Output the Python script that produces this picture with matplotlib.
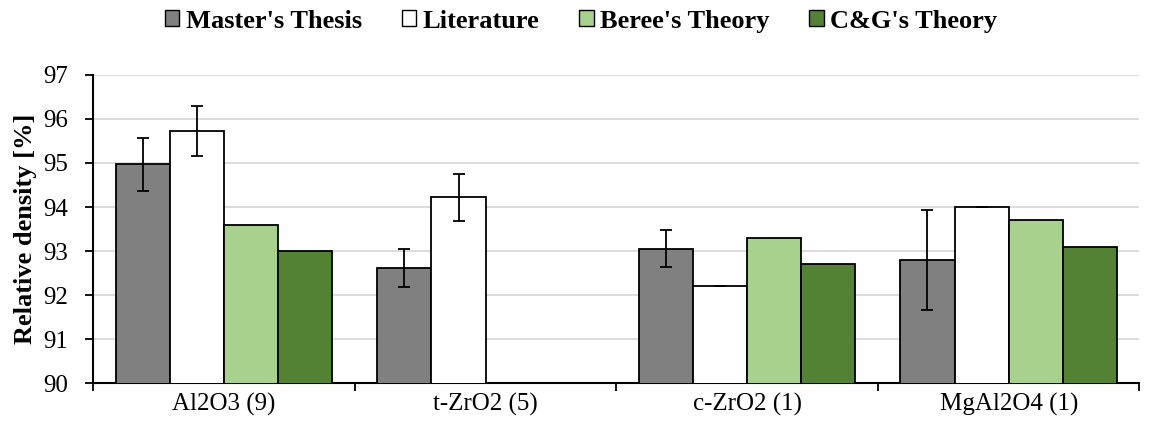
import numpy as np
import matplotlib
matplotlib.use('Agg')
import matplotlib.pyplot as plt

plt.rcParams['font.family'] = ['Liberation Serif', 'DejaVu Serif']

categories = ['Al2O3 (9)', 't-ZrO2 (5)', 'c-ZrO2 (1)', 'MgAl2O4 (1)']
series = ["Master's Thesis", 'Literature', "Beree's Theory", "C&G's Theory"]
master = [94.97, 92.62, 93.05, 92.80]
master_err = [0.60, 0.43, 0.42, 1.13]
literature = [95.72, 94.22, 92.20, 94.00]
literature_err = [0.57, 0.53, 0.0, 0.0]
beree = [93.6, np.nan, 93.3, 93.7]
cg = [93.0, np.nan, 92.7, 93.1]

colors = ['#808080', '#ffffff', '#a9d18e', '#548235']
values = [master, literature, beree, cg]
errs = [master_err, literature_err, None, None]

fig, ax = plt.subplots(figsize=(11.51, 4.21), dpi=100)
fig.subplots_adjust(left=0.081, right=0.99, top=0.822, bottom=0.09)

x = np.arange(len(categories))
w = 0.207
for i in range(4):
    pos = x + (i - 1.5) * w
    ax.bar(pos, values[i], w, bottom=0, color=colors[i], edgecolor='black',
           linewidth=1.3, label=series[i], zorder=3)
    if errs[i] is not None:
        ax.errorbar(pos, values[i], yerr=errs[i], fmt='none', ecolor='black',
                    elinewidth=1.3, capsize=4.5, capthick=1.3, zorder=4)

ax.set_ylim(90, 97)
ax.set_xlim(-0.5, 3.5)
ax.set_yticks(range(90, 98))
ax.yaxis.grid(True, color='#d9d9d9', linewidth=1.3, zorder=0)
ax.set_axisbelow(True)

# category boundaries get the tick marks, names sit in between
ax.set_xticks(np.arange(-0.5, 4, 1))
ax.set_xticklabels([])
ax.set_xticks(x, minor=True)
ax.set_xticklabels(categories, minor=True)
ax.tick_params(axis='x', which='minor', length=0, labelsize=18, pad=7)
ax.tick_params(axis='x', which='major', length=6, width=1.3, direction='out')
ax.tick_params(axis='y', length=6, width=1.3, labelsize=18, pad=12)

for s in ['top', 'right']:
    ax.spines[s].set_visible(False)
ax.spines['left'].set_linewidth(1.5)
ax.spines['bottom'].set_linewidth(1.5)

ax.set_ylabel('Relative density [%]', fontsize=19, fontweight='bold')
ax.yaxis.set_label_coords(-0.054, 0.5)

leg = fig.legend(loc='center', bbox_to_anchor=(0.505, 0.95), ncol=4, frameon=False,
                 prop={'weight': 'bold', 'size': 19}, handlelength=0.55, handleheight=0.55,
                 handletextpad=0.25, columnspacing=1.5)
for h in leg.legend_handles:
    h.set_linewidth(1.0)

fig.savefig('out.png', dpi=100)
